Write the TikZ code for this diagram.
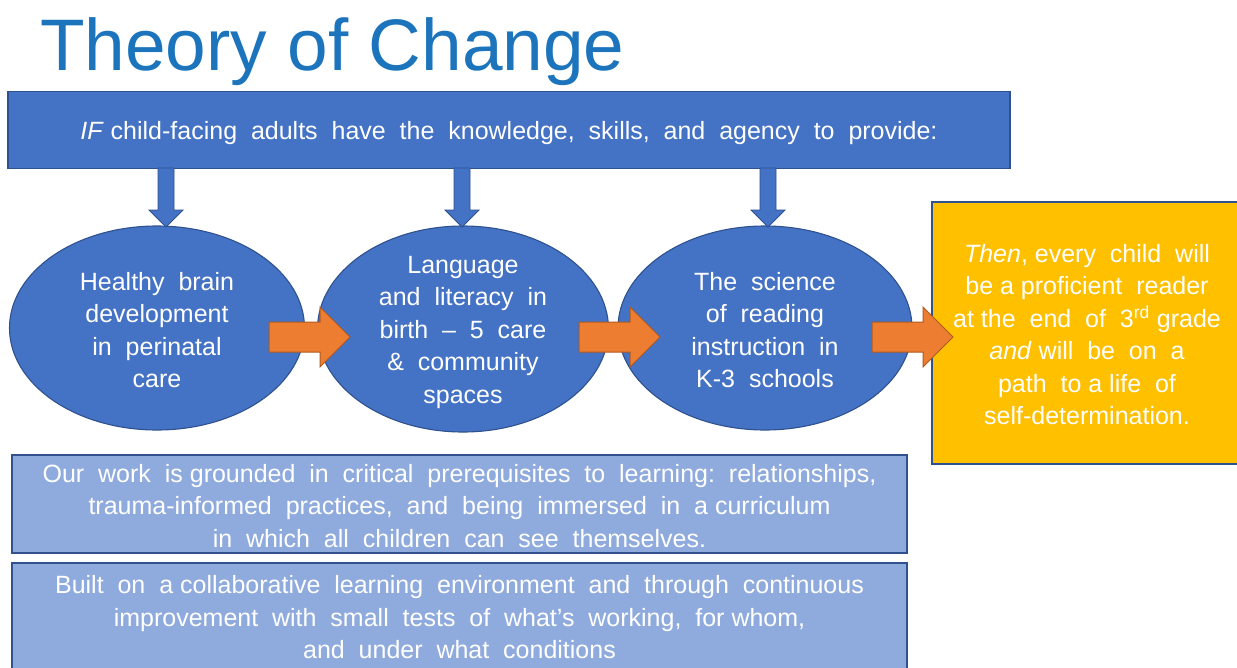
\documentclass[tikz,border=0pt]{standalone}
\usepackage{fontspec}
\setmainfont{Liberation Sans}
\usetikzlibrary{shapes.geometric}
\definecolor{bfill}{HTML}{4472C4}
\definecolor{bline}{HTML}{2F528F}
\definecolor{lfill}{HTML}{8FAADC}
\definecolor{ofill}{HTML}{ED7D31}
\definecolor{oline}{HTML}{AE5A21}
\definecolor{yfill}{HTML}{FFC000}
\definecolor{ttl}{HTML}{1C75BC}
\tikzset{
  bodyfont/.style={font=\fontsize{25}{32.5}\selectfont},
  topbox/.style={rectangle,draw=bline,line width=1.3pt,fill=bfill,inner sep=0pt},
  lowbox/.style={rectangle,draw=bline,line width=1.3pt,fill=lfill,inner sep=0pt},
  yelbox/.style={rectangle,draw=bline,line width=1.1pt,fill=yfill,inner sep=0pt},
  oval/.style={ellipse,draw=bline,line width=1.1pt,fill=bfill,inner sep=0pt},
  txt/.style={bodyfont,text=white,align=center,inner sep=0pt},
  downarr/.style={fill=bfill,draw=bline,line width=0.8pt},
  orarr/.style={fill=ofill,draw=oline,line width=1pt},
}
\newcommand\dnarrow[3]{% x, ytop, ytip
  \path[downarr] (#1-8,#2) -- (#1+8,#2) -- (#1+8,#3-17) -- (#1+17,#3-17) -- (#1,#3) -- (#1-17,#3-17) -- (#1-8,#3-17) -- cycle;}
\newcommand\rtarrow[2]{% xstart, ycenter
  \path[orarr] (#1,#2-15) -- (#1+51,#2-15) -- (#1+51,#2-30) -- (#1+81,#2) -- (#1+51,#2+30) -- (#1+51,#2+15) -- (#1,#2+15) -- cycle;}
\begin{document}
\begin{tikzpicture}[x=1pt,y=-1pt]
\useasboundingbox (0,0) rectangle (1237,667);
\fill[white] (0,0) rectangle (1237,667);

\node[anchor=base west,text=ttl,font=\fontsize{73}{80}\selectfont,inner sep=0pt] (title) at (40,70) {Theory of Change};

\node[topbox,minimum width=1002pt,minimum height=77pt] (top) at (509,130) {};
\node[txt] (toptxt) at (509,133.5) {\textit{IF} child-facing\ \ adults\ \ have\ \ the\ \ knowledge,\ \ skills,\ \ and\ \ agency\ \ to\ \ provide:};

\node[oval,minimum width=295pt,minimum height=204pt] (e1) at (157,328) {};
\node[oval,minimum width=291pt,minimum height=206pt] (e2) at (463,329) {};
\node[oval,minimum width=294pt,minimum height=204pt] (e3) at (765,328) {};

\node[txt] (t1) at (157,330) {Healthy\ \ brain\\development\\in\ \ perinatal\\care};
\node[txt] (t2) at (463,332) {Language\\and\ \ literacy\ \ in\\birth\ \ --\ \ 5\ \ care\\\&\ \ community\\spaces};
\node[txt] (t3) at (765,330) {The\ \ science\\of\ \ reading\\instruction\ \ in\\K-3\ \ schools};

\dnarrow{166}{168}{227}
\dnarrow{462}{168}{227}
\dnarrow{768}{168}{227}

\node[yelbox,minimum width=310pt,minimum height=262pt] (goal) at (1087,333) {};
\node[txt] (goaltxt) at (1087,334.5) {\textit{Then},\ every\ \ child\ \ will\\be\ a\ proficient\ \ reader\\at\ the\ \ end\ \ of\ \ 3\textsuperscript{rd}\ grade\\\textit{and}\ will\ \ be\ \ on\ \ a\\path\ \ to\ a\ life\ \ of\\self-determination.};

\rtarrow{269}{337}
\rtarrow{579}{337}
\rtarrow{872}{337}

\node[lowbox,minimum width=895pt,minimum height=98pt] (b1) at (459.5,504) {};
\node[txt] (b1txt) at (459.5,506) {Our\ \ work\ \ is\ grounded\ \ in\ \ critical\ \ prerequisites\ \ to\ \ learning:\ \ relationships,\\trauma-informed\ \ practices,\ \ and\ \ being\ \ immersed\ \ in\ \ a\ curriculum\\in\ \ which\ \ all\ \ children\ \ can\ \ see\ \ themselves.};

\node[lowbox,minimum width=895pt,minimum height=120pt] (b2) at (459.5,623) {};
\node[txt] (b2txt) at (459.5,617.5) {Built\ \ on\ \ a\ collaborative\ \ learning\ \ environment\ \ and\ \ through\ \ continuous\\improvement\ \ with\ \ small\ \ tests\ \ of\ \ what's\ \ working,\ \ for\ whom,\\and\ \ under\ \ what\ \ conditions};
\end{tikzpicture}
\end{document}
